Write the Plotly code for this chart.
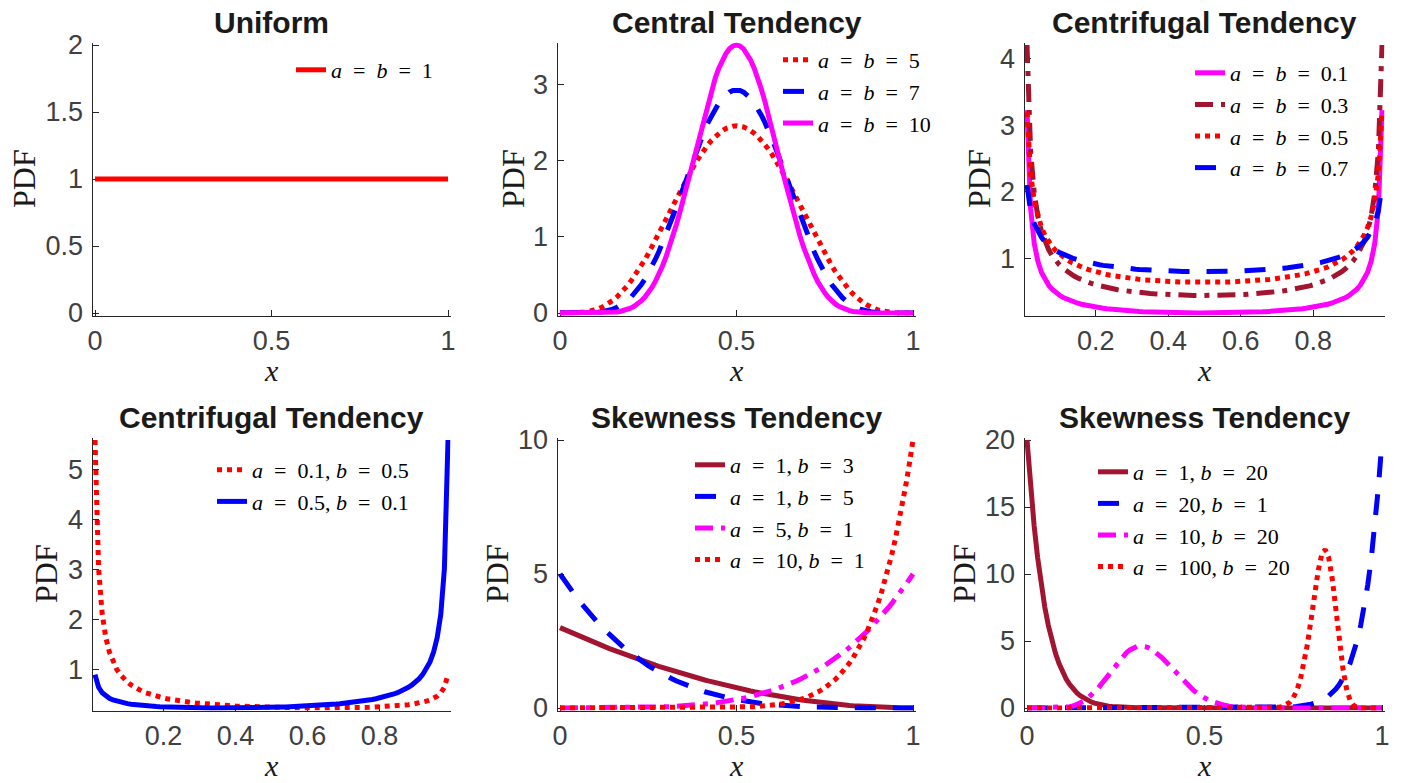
import numpy as np
import plotly.graph_objects as go
from math import lgamma, exp

# Beta-distribution parameters (a, b) for each panel
uniform_params = [(1, 1)]
central_params = [(5, 5), (7, 7), (10, 10)]
centrifugal_sym_params = [(0.1, 0.1), (0.3, 0.3), (0.5, 0.5), (0.7, 0.7)]
centrifugal_asym_params = [(0.1, 0.5), (0.5, 0.1)]
skew_params = [(1, 3), (1, 5), (5, 1), (10, 1)]
skew_strong_params = [(1, 20), (20, 1), (10, 20), (100, 20)]

panel_titles = ["Uniform", "Central Tendency", "Centrifugal Tendency",
                "Centrifugal Tendency", "Skewness Tendency", "Skewness Tendency"]

# evaluation grids: closed interval, and one that avoids the poles at 0 and 1
x_closed = np.linspace(0, 1, 101)
x_open = np.linspace(0.01, 0.99, 99)

# y tick values per panel
yticks = [[0, 0.5, 1, 1.5, 2], [0, 1, 2, 3], [1, 2, 3, 4],
          [1, 2, 3, 4, 5], [0, 5, 10], [0, 5, 10, 15, 20]]
xticks_closed = [0, 0.5, 1]
xticks_open = [0.2, 0.4, 0.6, 0.8]

# ---- styling ----
RED, BLUE, MAGENTA, DARKRED = "#FF0000", "#0000FF", "#FF00FF", "#A2142F"
LW = 5
SOLID, DOT, DASH, DASHDOT = "solid", "5px,5px", "21px,17px", "18px,8px,5px,8px"

panels = [
    dict(params=uniform_params, x=x_closed, xt=xticks_closed, ylim=(0, 2),
         styles=[(RED, SOLID)]),
    dict(params=central_params, x=x_closed, xt=xticks_closed, ylim=None,
         styles=[(RED, DOT), (BLUE, DASH), (MAGENTA, SOLID)]),
    dict(params=centrifugal_sym_params, x=x_open, xt=xticks_open, ylim=None,
         styles=[(MAGENTA, SOLID), (DARKRED, DASHDOT), (RED, DOT), (BLUE, DASH)]),
    dict(params=centrifugal_asym_params, x=x_open, xt=xticks_open, ylim=None,
         styles=[(RED, DOT), (BLUE, SOLID)]),
    dict(params=skew_params, x=x_closed, xt=xticks_closed, ylim=None,
         styles=[(DARKRED, SOLID), (BLUE, DASH), (MAGENTA, DASHDOT), (RED, DOT)]),
    dict(params=skew_strong_params, x=x_closed, xt=xticks_closed, ylim=None,
         styles=[(DARKRED, SOLID), (BLUE, DASH), (MAGENTA, DASHDOT), (RED, DOT)]),
]


def beta_pdf(x, a, b):
    beta_fn = exp(lgamma(a) + lgamma(b) - lgamma(a + b))
    return np.power(x, a - 1) * np.power(1 - x, b - 1) / beta_fn


def fmt(v):
    return f"{v:g}"


EQ = "\u2002=\u2002"


def label(a, b):
    if a == b:
        return f"<i>a</i>{EQ}<i>b</i>{EQ}{fmt(a)}"
    return f"<i>a</i>{EQ}{fmt(a)}, <i>b</i>{EQ}{fmt(b)}"


# ---- layout geometry (pixels) ----
W, H = 1402, 783
PAD = 2.5
col_px = [(95, 448), (560, 913), (1027, 1382)]
row_px = [(45, 313), (440, 708)]
legend_pos = [(291, 49), (778, 39), (1190, 52), (212, 449), (690, 444), (1093, 451)]
title_y = [22, 417]
xlabel_bottom = [388, 783]
ylabel_x = [24, 513, 979, 46, 497, 964]

SANS = "Liberation Sans, Arial, sans-serif"
SERIF = "Liberation Serif, Times New Roman, serif"
TICK_FONT = dict(family=SANS, size=27, color="#404040")

fig = go.Figure()
layout = dict(width=W, height=H,
              margin=dict(l=0, r=0, t=0, b=0, pad=0, autoexpand=False),
              plot_bgcolor="white", paper_bgcolor="white", showlegend=True)
annotations = []

for i, p in enumerate(panels):
    r, c = divmod(i, 3)
    x0, x1 = col_px[c]
    y0, y1 = row_px[r]
    xs = p["x"]
    ys_all = []
    leg = "legend" if i == 0 else f"legend{i + 1}"
    ax_suffix = "" if i == 0 else str(i + 1)
    for (a, b), (color, dash) in zip(p["params"], p["styles"]):
        ys = beta_pdf(xs, a, b)
        ys_all.append(ys)
        fig.add_trace(go.Scatter(
            x=xs, y=ys, mode="lines", name=label(a, b),
            line=dict(color=color, width=LW, dash=dash),
            xaxis="x" + ax_suffix, yaxis="y" + ax_suffix, legend=leg,
            hoverinfo="skip"))

    # tight limits on the data, padded by a few pixels so thick lines are not clipped
    xlo, xhi = float(xs.min()), float(xs.max())
    if p["ylim"] is None:
        ylo = float(min(v.min() for v in ys_all))
        yhi = float(max(v.max() for v in ys_all))
    else:
        ylo, yhi = p["ylim"]
    dxp = (xhi - xlo) * PAD / (x1 - x0)
    dyp = (yhi - ylo) * PAD / (y1 - y0)

    axis_common = dict(showline=True, linecolor="#262626", linewidth=1,
                       ticks="inside", ticklen=6, tickcolor="#262626", tickwidth=1,
                       showgrid=False, zeroline=False, layer="below traces",
                       tickfont=TICK_FONT, fixedrange=True, automargin=False)
    layout["xaxis" + ax_suffix] = dict(
        axis_common, domain=[(x0 - PAD) / W, (x1 + PAD) / W],
        range=[xlo - dxp, xhi + dxp], tickvals=p["xt"],
        ticktext=[fmt(t) for t in p["xt"]],
        anchor="y" + ax_suffix, ticklabelstandoff=1)
    layout["yaxis" + ax_suffix] = dict(
        axis_common, domain=[1 - (y1 + PAD) / H, 1 - (y0 - PAD) / H],
        range=[ylo - dyp, yhi + dyp], tickvals=yticks[i],
        ticktext=[fmt(t) for t in yticks[i]],
        anchor="x" + ax_suffix, ticklabelstandoff=3)

    lx, ly = legend_pos[i]
    layout[leg] = dict(x=lx / W, y=1 - ly / H, xanchor="left", yanchor="top",
                       xref="paper", yref="paper",
                       bgcolor="rgba(0,0,0,0)", borderwidth=0,
                       font=dict(family=SERIF, size=22, color="black"),
                       itemwidth=30, tracegroupgap=0)

    # panel title and axis labels
    annotations.append(dict(text=f"<b>{panel_titles[i]}</b>", x=(x0 + x1) / 2 / W,
                            y=1 - title_y[r] / H, xref="paper", yref="paper",
                            xanchor="center", yanchor="middle", showarrow=False,
                            font=dict(family=SANS, size=30, color="#1a1a1a")))
    annotations.append(dict(text="<i>x</i>", x=(x0 + x1) / 2 / W,
                            y=1 - xlabel_bottom[r] / H, xref="paper", yref="paper",
                            xanchor="center", yanchor="bottom", showarrow=False,
                            borderpad=0,
                            font=dict(family=SERIF, size=30, color="#1a1a1a")))
    annotations.append(dict(text="PDF", x=ylabel_x[i] / W,
                            y=1 - (y0 + y1) / 2 / H, xref="paper", yref="paper",
                            xanchor="center", yanchor="middle", showarrow=False,
                            textangle=-90,
                            font=dict(family=SERIF, size=32, color="#1a1a1a")))

layout["annotations"] = annotations
fig.update_layout(**layout)
fig.write_html("out.html")
